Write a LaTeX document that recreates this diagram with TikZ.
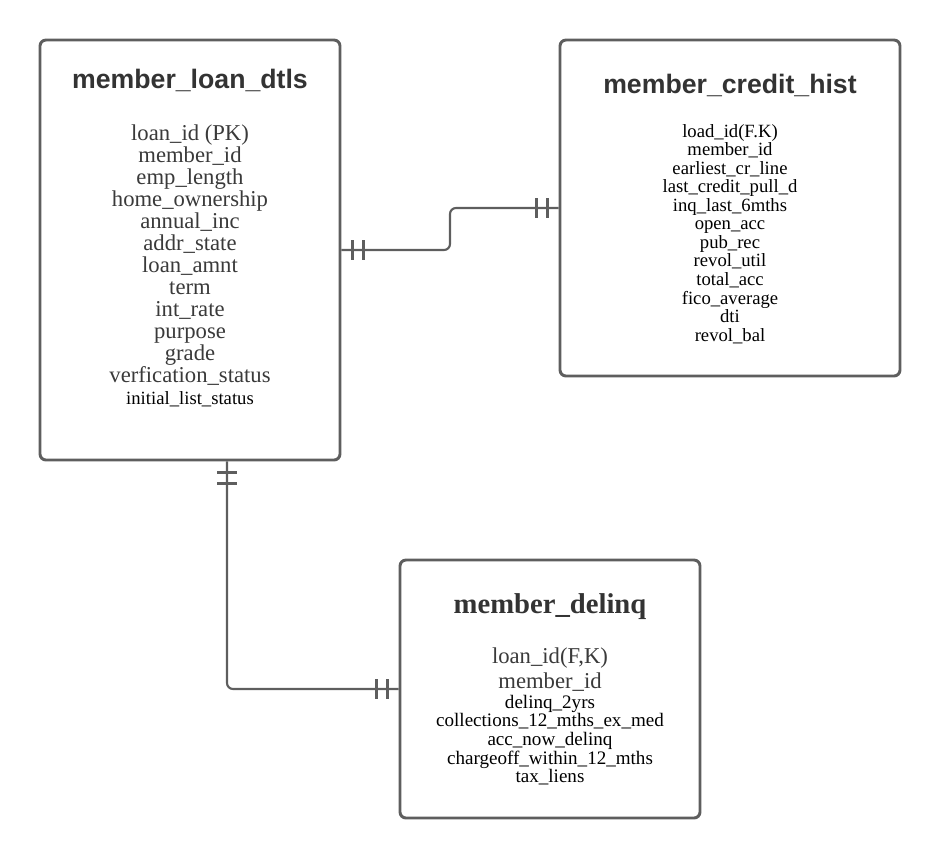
\documentclass[tikz,border=0pt]{standalone}
\usepackage{fontspec}
\setmainfont{Liberation Serif}
\setsansfont{Liberation Sans}
\usetikzlibrary{positioning,calc}
\definecolor{edgegray}{HTML}{5E5E5E}
\definecolor{titlegray}{HTML}{333333}
\definecolor{fieldgray}{HTML}{3A3A3A}

\tikzset{
  tbl/.style={draw=edgegray, line width=2.2pt, rounded corners=4.5pt, fill=white},
  rel/.style={draw=edgegray, line width=1.6pt, rounded corners=4.5pt},
  bar/.style={draw=edgegray, line width=1.6pt},
  ttl/.style={font=\sffamily\bfseries\fontsize{20}{24}\selectfont, text=titlegray, inner sep=0pt, anchor=base},
  fld/.style={align=center, text=fieldgray, inner sep=0pt, anchor=north},
}
\newcommand{\bigfld}[1]{{\color{fieldgray}\fontsize{17}{16.5}\selectfont #1}}

\begin{document}
\begin{tikzpicture}[x=0.75pt,y=-0.75pt]
\useasboundingbox (0,0) rectangle (940,858);

% tables
\node[tbl, minimum width=225pt, minimum height=315pt] (loan) at (190,250) {};
\node[tbl, minimum width=255pt, minimum height=252pt] (credit) at (730,208) {};
\node[tbl, minimum width=225pt, minimum height=193.5pt] (delinq) at (550,689) {};

% titles
\node[ttl] (loanttl) at (190,88) {member\_loan\_dtls};
\node[ttl] (creditttl) at (730,93) {member\_credit\_hist};
\node[ttl, font=\rmfamily\bfseries\fontsize{21.5}{24}\selectfont] (delinqttl) at (550,613) {member\_delinq};

% columns
\node[fld, font=\fontsize{17}{16.5}\selectfont] (loanflds) at (190,124) {loan\_id (PK)\\member\_id\\emp\_length\\home\_ownership\\annual\_inc\\addr\_state\\loan\_amnt\\term\\int\_rate\\purpose\\grade\\verfication\_status\\{\color{black}\fontsize{14}{15}\selectfont initial\_list\_status}};
\node[fld, font=\fontsize{14}{13.9}\selectfont, text=black] (creditflds) at (730,124) {load\_id(F.K)\\member\_id\\earliest\_cr\_line\\last\_credit\_pull\_d\\inq\_last\_6mths\\open\_acc\\pub\_rec\\revol\_util\\total\_acc\\fico\_average\\dti\\revol\_bal};
\node[fld, font=\fontsize{14.3}{14}\selectfont, text=black] (delinqflds) at (550,647) {\bigfld{loan\_id(F,K)}\\[2.5pt]\bigfld{member\_id}\\[1pt]delinq\_2yrs\\collections\_12\_mths\_ex\_med\\acc\_now\_delinq\\chargeoff\_within\_12\_mths\\tax\_liens};

% relations
\coordinate (mid1) at ($(loan.east)!0.5!(credit.west)$);
\coordinate (lbot) at ($(loan.south)+(37,0)$);
\draw[rel] (loan.east) -- (loan.east -| mid1) -- (mid1 |- credit.west) -- (credit.west);
\draw[rel] (lbot) |- (delinq.west);

% one-to-one marks
\foreach \d in {11,22} {
  \draw[bar] ($(loan.east)+(\d,-10)$) -- ++(0,20);
  \draw[bar] ($(credit.west)+(-\d,-10)$) -- ++(0,20);
  \draw[bar] ($(lbot)+(-10,\d)$) -- ++(20,0);
  \draw[bar] ($(delinq.west)+(-\d,-10)$) -- ++(0,20);
}
\end{tikzpicture}
\end{document}
